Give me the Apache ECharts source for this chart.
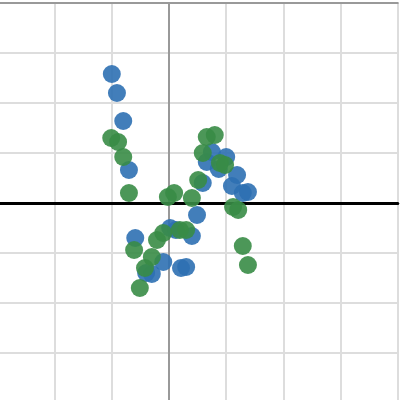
<!DOCTYPE html>
<html>
<head>
<meta charset="utf-8">
<script src="https://cdn.jsdelivr.net/npm/echarts@6/dist/echarts.min.js"></script>
<style>
  html, body { margin: 0; padding: 0; background: #fff; }
  #main { width: 400px; height: 400px; }
</style>
</head>
<body>
<div id="main"></div>
<script>
  // blue series points [x, y]
  var bluePoints = [
    [-1.00, 2.58], [-0.91, 2.20], [-0.80, 1.64], [-0.70, 0.66], [-0.59, -0.70],
    [-0.40, -1.40], [-0.30, -1.42], [-0.10, -1.18], [0.02, -0.50], [0.12, -0.54],
    [0.21, -1.30], [0.30, -1.28], [0.40, -0.66], [0.49, -0.24], [0.59, 0.40],
    [0.66, 0.82], [0.75, 1.02], [0.87, 0.68], [1.00, 0.92], [1.10, 0.34],
    [1.19, 0.56], [1.29, 0.20], [1.38, 0.22]
  ];
  // green series points [x, y]
  var greenPoints = [
    [-1.01, 1.30], [-0.89, 1.22], [-0.80, 0.92], [-0.70, 0.20], [-0.61, -0.94],
    [-0.51, -1.70], [-0.42, -1.30], [-0.30, -1.08], [-0.21, -0.74], [-0.10, -0.60],
    [-0.02, 0.12], [0.09, 0.20], [0.19, -0.54], [0.30, -0.54], [0.40, 0.10],
    [0.51, 0.46], [0.59, 1.00], [0.66, 1.32], [0.80, 1.36], [0.89, 0.80],
    [0.98, 0.76], [1.12, -0.08], [1.21, -0.14], [1.29, -0.86], [1.38, -1.24]
  ];
  var xRange = [-3, 4];
  var yRange = [-4, 4];

  var myChart = echarts.init(document.getElementById('main'));
  myChart.setOption({
    animation: false,
    grid: {
      left: -2.6,
      right: 2.2,
      top: 3,
      bottom: -3,
      outerBoundsMode: 'none'
    },
    xAxis: [
      {
        type: 'value',
        min: xRange[0],
        max: xRange[1],
        interval: 1,
        axisLabel: { show: false },
        axisTick: { show: false },
        axisLine: {
          onZero: true,
          lineStyle: { color: '#000', width: 3 }
        },
        splitLine: {
          lineStyle: { color: '#dddddd', width: 2 }
        }
      },
      {
        type: 'value',
        position: 'top',
        min: xRange[0],
        max: xRange[1],
        axisLabel: { show: false },
        axisTick: { show: false },
        axisLine: {
          onZero: false,
          lineStyle: { color: '#999', width: 2 }
        },
        splitLine: { show: false }
      }
    ],
    yAxis: {
      type: 'value',
      min: yRange[0],
      max: yRange[1],
      interval: 1,
      axisLabel: { show: false },
      axisTick: { show: false },
      axisLine: {
        show: true,
        onZero: true,
        lineStyle: { color: '#999', width: 2 }
      },
      splitLine: {
        lineStyle: { color: '#dddddd', width: 2 }
      }
    },
    series: [
      {
        name: 'blue',
        type: 'scatter',
        data: bluePoints,
        symbolSize: 18,
        itemStyle: { color: '#2d70b3', opacity: 0.9 }
      },
      {
        name: 'green',
        type: 'scatter',
        data: greenPoints,
        symbolSize: 18,
        itemStyle: { color: '#388c46', opacity: 0.9 }
      }
    ]
  });
</script>
</body>
</html>
